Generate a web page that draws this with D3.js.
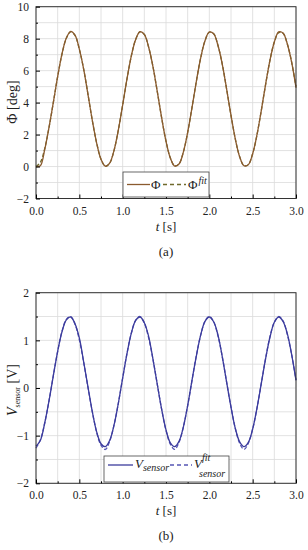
<!DOCTYPE html>
<html><head><meta charset="utf-8">
<script src="https://cdnjs.cloudflare.com/ajax/libs/d3/7.8.5/d3.min.js"></script>
<style>body{margin:0;background:#fff}svg{display:block}text{font-family:"Liberation Serif","Times New Roman",serif;fill:#222}</style>
</head><body><svg id="c" width="308" height="550"></svg>
<script>
const time = d3.range(0, 61).map(i => +(i * 0.05).toFixed(2));
const phiMeasured = [0.00,0.05,1.05,2.45,4.02,5.64,7.05,8.04,8.46,8.22,7.35,6.10,4.50,2.88,1.47,0.45,0.02,0.22,1.00,2.28,3.85,5.48,6.92,7.95,8.44,8.27,7.46,6.24,4.67,3.04,1.59,0.53,0.03,0.16,0.90,2.13,3.69,5.32,6.79,7.87,8.42,8.31,7.57,6.38,4.83,3.20,1.72,0.61,0.05,0.12,0.80,1.99,3.52,5.16,6.66,7.79,8.42,8.35,7.67,6.52,4.93];
const phiFit      = [0.00,0.26,1.11,2.43,4.01,5.63,7.04,8.02,8.43,8.21,7.34,6.09,4.51,2.88,1.47,0.46,0.02,0.20,1.00,2.28,3.85,5.48,6.92,7.95,8.42,8.26,7.46,6.24,4.67,3.04,1.59,0.54,0.04,0.16,0.90,2.13,3.69,5.32,6.79,7.87,8.40,8.31,7.57,6.38,4.83,3.20,1.72,0.62,0.05,0.12,0.80,1.99,3.52,5.16,6.66,7.79,8.38,8.34,7.67,6.53,5.00];
const vMeasured   = [-1.22,-1.10,-0.74,-0.27,0.26,0.77,1.18,1.43,1.49,1.35,1.05,0.55,0.02,-0.50,-0.92,-1.17,-1.23,-1.10,-0.78,-0.32,0.21,0.72,1.15,1.42,1.49,1.37,1.08,0.60,0.07,-0.45,-0.88,-1.15,-1.23,-1.12,-0.82,-0.37,0.16,0.67,1.11,1.40,1.49,1.39,1.11,0.65,0.12,-0.40,-0.85,-1.13,-1.23,-1.14,-0.86,-0.42,0.10,0.62,1.07,1.38,1.49,1.40,1.14,0.70,0.16];
const vFit        = [-1.26,-1.09,-0.74,-0.27,0.26,0.77,1.19,1.44,1.50,1.34,1.01,0.54,0.01,-0.50,-0.93,-1.20,-1.29,-1.12,-0.78,-0.32,0.21,0.73,1.15,1.42,1.50,1.36,1.05,0.60,0.07,-0.45,-0.89,-1.18,-1.29,-1.14,-0.82,-0.37,0.16,0.68,1.11,1.40,1.50,1.39,1.09,0.65,0.12,-0.40,-0.85,-1.16,-1.29,-1.16,-0.86,-0.42,0.10,0.63,1.08,1.38,1.50,1.41,1.12,0.70,0.17];
const xTicks = [0, 0.5, 1.0, 1.5, 2.0, 2.5, 3.0];
const phiTicks = [-2, 0, 2, 4, 6, 8, 10];
const vTicks = [-2, -1, 0, 1, 2];

const svg = d3.select("#c");
const L = 36, R = 296;

function panel(cfg) {
  const x = d3.scaleLinear().domain([0, 3]).range([L, R]);
  const y = d3.scaleLinear().domain(cfg.yDomain).range([cfg.bottom, cfg.top]);
  const g = svg.append("g");
  // grid
  const xg = d3.range(0, 3.0001, 0.25);
  g.selectAll(".vg").data(xg).join("line")
    .attr("x1", d => x(d)).attr("x2", d => x(d)).attr("y1", cfg.top).attr("y2", cfg.bottom)
    .attr("stroke", "#dadada").attr("stroke-width", 0.8);
  const yg = d3.range(cfg.yDomain[0], cfg.yDomain[1] + 1e-6, cfg.minor);
  g.selectAll(".hg").data(yg).join("line")
    .attr("y1", d => y(d)).attr("y2", d => y(d)).attr("x1", L).attr("x2", R)
    .attr("stroke", "#dadada").attr("stroke-width", 0.8);
  // curves
  const line = (arr) => d3.line().x((d, i) => x(time[i])).y(d => y(d)).curve(d3.curveCatmullRom)(arr);
  g.append("path").attr("d", line(cfg.fit)).attr("fill", "none")
    .attr("stroke", cfg.fitColor).attr("stroke-width", 1.3).attr("stroke-dasharray", "4,2");
  g.append("path").attr("d", line(cfg.meas)).attr("fill", "none")
    .attr("stroke", cfg.color).attr("stroke-width", 1.3);
  // frame
  g.append("rect").attr("x", L).attr("y", cfg.top).attr("width", R - L).attr("height", cfg.bottom - cfg.top)
    .attr("fill", "none").attr("stroke", "#333").attr("stroke-width", 1);
  // axes
  const xa = g.append("g").attr("transform", `translate(0,${cfg.bottom})`)
    .call(d3.axisBottom(x).tickValues(xTicks).tickFormat(d3.format(".1f")).tickSize(-4).tickPadding(8));
  xa.select(".domain").remove();
  xa.selectAll("text").attr("font-size", 11.5).style("font-family", "Liberation Serif");
  g.append("g").attr("transform", `translate(0,${cfg.bottom})`)
    .call(d3.axisBottom(x).tickValues(d3.range(0.25, 3, 0.5)).tickFormat("").tickSize(-2))
    .select(".domain").remove();
  const ya = g.append("g").attr("transform", `translate(${L},0)`)
    .call(d3.axisLeft(y).tickValues(cfg.yTicks).tickFormat(d3.format("d")).tickSize(-4).tickPadding(7));
  ya.select(".domain").remove();
  ya.selectAll("text").attr("font-size", 11.5).style("font-family", "Liberation Serif");
  g.append("g").attr("transform", `translate(${L},0)`)
    .call(d3.axisLeft(y).tickValues(cfg.yMinorTicks).tickFormat("").tickSize(-2))
    .select(".domain").remove();
  // x label
  const xl = g.append("text").attr("x", 166).attr("y", cfg.bottom + 32).attr("text-anchor", "middle").attr("font-size", 13);
  xl.append("tspan").attr("font-style", "italic").text("t");
  xl.append("tspan").text(" [s]");
  g.append("text").attr("x", 166).attr("y", cfg.bottom + 57).attr("text-anchor", "middle").attr("font-size", 13).text(cfg.tag);
  return {x, y, g};
}

// Panel (a)
const a = panel({yDomain: [-2, 10], top: 6.7, bottom: 198.5, minor: 1, yTicks: phiTicks,
  yMinorTicks: d3.range(-1, 10, 2), meas: phiMeasured, fit: phiFit,
  color: "#8a5a2e", fitColor: "#6f6a2c", tag: "(a)"});
svg.append("text").attr("transform", "translate(17,102) rotate(-90)").attr("text-anchor", "middle")
  .attr("font-size", 14).text("Φ [deg]");
// legend (a)
const la = svg.append("g");
la.append("rect").attr("x", 123).attr("y", 172).attr("width", 86).attr("height", 25)
  .attr("fill", "#fff").attr("stroke", "#444").attr("stroke-width", 0.8);
la.append("line").attr("x1", 127).attr("x2", 150).attr("y1", 184.5).attr("y2", 184.5).attr("stroke", "#8a5a2e").attr("stroke-width", 1.3);
la.append("text").attr("x", 151).attr("y", 189).attr("font-size", 13).text("Φ");
la.append("line").attr("x1", 163).attr("x2", 186).attr("y1", 184.5).attr("y2", 184.5).attr("stroke", "#6f6a2c").attr("stroke-width", 1.3).attr("stroke-dasharray", "4,3");
const lat = la.append("text").attr("x", 188).attr("y", 189).attr("font-size", 13);
lat.append("tspan").text("Φ");
lat.append("tspan").attr("dx", 1).attr("dy", -5).attr("font-size", 10).attr("font-style", "italic").text("fit");

// Panel (b)
const b = panel({yDomain: [-2, 2], top: 292.7, bottom: 483.3, minor: 0.5, yTicks: vTicks,
  yMinorTicks: d3.range(-1.5, 2, 1), meas: vMeasured, fit: vFit,
  color: "#3b3b9c", fitColor: "#5656b4", tag: "(b)"});
const vl = svg.append("text").attr("transform", "translate(17,390) rotate(-90)").attr("text-anchor", "middle").attr("font-size", 14);
vl.append("tspan").attr("font-style", "italic").text("V");
vl.append("tspan").attr("font-size", 8).attr("dy", 3).text("sensor");
vl.append("tspan").attr("dy", -3).text(" [V]");
// legend (b)
const lb = svg.append("g");
lb.append("rect").attr("x", 104).attr("y", 456).attr("width", 125).attr("height", 26)
  .attr("fill", "#fff").attr("stroke", "#444").attr("stroke-width", 0.8);
lb.append("line").attr("x1", 108).attr("x2", 133).attr("y1", 465).attr("y2", 465).attr("stroke", "#3b3b9c").attr("stroke-width", 1.3);
const lbt = lb.append("text").attr("x", 135).attr("y", 468).attr("font-size", 13).attr("font-style", "italic");
lbt.append("tspan").text("V");
lbt.append("tspan").attr("font-size", 10).attr("dy", 3).text("sensor");
lb.append("line").attr("x1", 170).attr("x2", 192).attr("y1", 465).attr("y2", 465).attr("stroke", "#5656b4").attr("stroke-width", 1.3).attr("stroke-dasharray", "4,3");
lb.append("text").attr("x", 194).attr("y", 468).attr("font-size", 13).attr("font-style", "italic").text("V");
lb.append("text").attr("x", 202).attr("y", 461).attr("font-size", 10).attr("font-style", "italic").text("fit");
lb.append("text").attr("x", 199).attr("y", 477).attr("font-size", 10).attr("font-style", "italic").text("sensor");
</script></body></html>
